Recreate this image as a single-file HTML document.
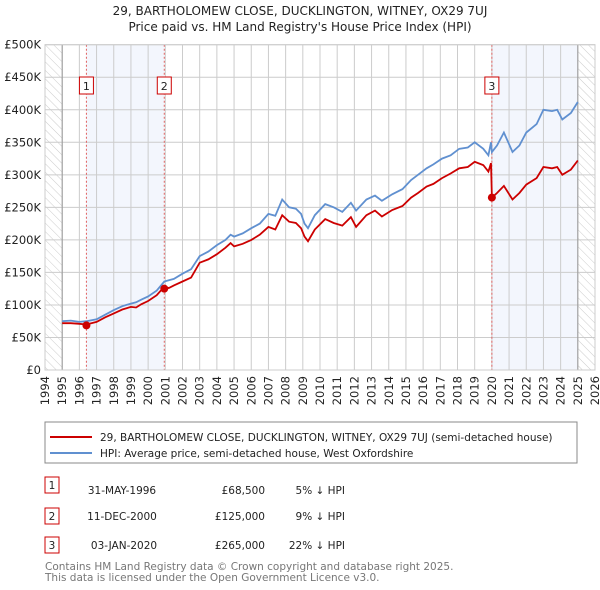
<!DOCTYPE html>
<html><head><meta charset="utf-8"><style>
body{margin:0;background:#fff;}
svg{display:block;font-family:"DejaVu Sans","Liberation Sans",sans-serif;}
</style></head><body>
<svg width="600" height="590" viewBox="0 0 600 590" xmlns="http://www.w3.org/2000/svg" id="chart">
<defs>
<pattern id="hatch" width="6" height="6" patternUnits="userSpaceOnUse" patternTransform="rotate(-45)">
<line x1="0" y1="0" x2="0" y2="6" stroke="#ccc" stroke-width="1"/>
</pattern>
</defs>
<text x="300" y="15" text-anchor="middle" font-size="12" fill="#222">29, BARTHOLOMEW CLOSE, DUCKLINGTON, WITNEY, OX29 7UJ</text>
<text x="300" y="31" text-anchor="middle" font-size="12" fill="#222">Price paid vs. HM Land Registry's House Price Index (HPI)</text>
<g id="plot"></g>
<g id="legend">
<rect x="45" y="422" width="532" height="41" fill="#fff" stroke="#888"/>
<line x1="50" y1="437" x2="92" y2="437" stroke="#cc0000" stroke-width="2"/>
<text x="100" y="441" font-size="10.5" fill="#222">29, BARTHOLOMEW CLOSE, DUCKLINGTON, WITNEY, OX29 7UJ (semi-detached house)</text>
<line x1="50" y1="453" x2="92" y2="453" stroke="#6090d0" stroke-width="2"/>
<text x="100" y="457" font-size="10.5" fill="#222">HPI: Average price, semi-detached house, West Oxfordshire</text>
</g>
<g id="table" font-size="10.5" fill="#222">
<rect x="45" y="477" width="14" height="16" fill="#fff" stroke="#cc0000"/>
<text x="52" y="489" text-anchor="middle">1</text>
<text x="122" y="494" text-anchor="middle">31-MAY-1996</text>
<text x="265" y="494" text-anchor="end">£68,500</text>
<text x="345" y="494" text-anchor="end">5% ↓ HPI</text>
<rect x="45" y="508" width="14" height="16" fill="#fff" stroke="#cc0000"/>
<text x="52" y="520" text-anchor="middle">2</text>
<text x="122" y="520" text-anchor="middle">11-DEC-2000</text>
<text x="265" y="520" text-anchor="end">£125,000</text>
<text x="345" y="520" text-anchor="end">9% ↓ HPI</text>
<rect x="45" y="537" width="14" height="16" fill="#fff" stroke="#cc0000"/>
<text x="52" y="549" text-anchor="middle">3</text>
<text x="124" y="549" text-anchor="middle">03-JAN-2020</text>
<text x="265" y="549" text-anchor="end">£265,000</text>
<text x="345" y="549" text-anchor="end">22% ↓ HPI</text>
</g>
<text x="45" y="570" font-size="10.5" fill="#777">Contains HM Land Registry data © Crown copyright and database right 2025.</text>
<text x="45" y="581" font-size="10.5" fill="#777">This data is licensed under the Open Government Licence v3.0.</text>
</svg>
<script>
const years=[1995,1995.5,1996,1996.41,1997,1997.5,1998,1998.5,1999,1999.3,1999.6,2000,2000.5,2000.94,2001.2,2001.5,2002,2002.5,2003,2003.5,2004,2004.5,2004.8,2005,2005.5,2006,2006.5,2007,2007.4,2007.8,2008.2,2008.6,2008.9,2009.1,2009.3,2009.7,2010.3,2010.8,2011.3,2011.8,2012.1,2012.7,2013.2,2013.6,2014.2,2014.8,2015.3,2015.7,2016.2,2016.6,2017.1,2017.6,2018.1,2018.6,2019,2019.5,2019.8,2019.95,2020,2020.3,2020.7,2021.2,2021.6,2022,2022.6,2023,2023.5,2023.8,2024.1,2024.6,2025];
const hpiValues=[75,76,74,75,78,85,92,98,102,104,108,113,122,136,138,140,148,155,175,182,192,200,208,205,210,218,225,240,237,262,250,248,240,225,218,238,255,250,243,257,245,262,268,260,270,278,292,300,310,316,325,330,340,342,350,340,330,350,335,345,365,335,345,365,378,400,398,400,385,395,412];
const propertyValues=[72,72,71,70,74,81,87,93,97,96,101,106,115,128,126,130,136,142,165,170,178,188,195,190,194,200,208,220,216,238,228,226,218,205,198,216,232,226,222,235,220,238,245,236,246,252,265,272,282,286,295,302,310,312,320,315,305,318,265,272,283,262,272,285,295,312,310,312,300,308,322];
const saleYears=[1996.41,2000.94,2020.0];
const salePrices=[68.5,125,265];
const saleLabels=["1","2","3"];
const yTicks=[0,50,100,150,200,250,300,350,400,450,500];
const yTickLabels=["£0","£50K","£100K","£150K","£200K","£250K","£300K","£350K","£400K","£450K","£500K"];
const xTicks=[1994,1995,1996,1997,1998,1999,2000,2001,2002,2003,2004,2005,2006,2007,2008,2009,2010,2011,2012,2013,2014,2015,2016,2017,2018,2019,2020,2021,2022,2023,2024,2025,2026];

const L=45,R=595,T=44.7,B=370;
const x=v=>L+(v-1994)/(2026-1994)*(R-L);
const y=v=>B-v/500*(B-T);
const NS="http://www.w3.org/2000/svg";
const g=document.getElementById('plot');
function mk(tag,attrs,parent){const e=document.createElementNS(NS,tag);for(const k in attrs)e.setAttribute(k,attrs[k]);(parent||g).appendChild(e);return e;}

let e=mk('rect',{x:x(1996.41),y:T,width:x(2000.94)-x(1996.41),height:B-T,fill:'#f3f6fd'});


e=mk('rect',{x:x(2020),y:T,width:x(2025)-x(2020),height:B-T,fill:'#f3f6fd'});


e=mk('rect',{x:L,y:T,width:x(1995)-L,height:B-T,fill:'url(#hatch)'});


e=mk('rect',{x:x(2025),y:T,width:R-x(2025),height:B-T,fill:'url(#hatch)'});



yTicks.forEach((t,i)=>{
  const l=mk('line',{x1:L,x2:R,y1:y(t),y2:y(t),stroke:'#ccc','stroke-width':1});
  
  
  const tx=mk('text',{x:L-4,y:y(t)+4,'text-anchor':'end','font-size':11.5,fill:'#222'});
  tx.textContent=yTickLabels[i];
  
  
});
xTicks.forEach(t=>{
  const l=mk('line',{x1:x(t),x2:x(t),y1:T,y2:B,stroke:'#ccc','stroke-width':1});
  
  
  const tx=mk('text',{x:0,y:0,'text-anchor':'end','font-size':11.5,fill:'#222',transform:`translate(${x(t)+4},${B+6}) rotate(-90)`});
  tx.textContent=t;
  
  
});
e=mk('line',{x1:x(1995),x2:x(1995),y1:T,y2:B,stroke:'#999','stroke-width':1});


e=mk('line',{x1:x(2025),x2:x(2025),y1:T,y2:B,stroke:'#999','stroke-width':1});



saleYears.forEach((s,i)=>{
  const l=mk('line',{x1:x(s),x2:x(s),y1:T,y2:B,stroke:'#e06060','stroke-width':1,'stroke-dasharray':'2,2'});
  
  
  const r=mk('rect',{x:x(s)-7,y:77,width:14,height:17,fill:'#fff',stroke:'#cc0000'});
  
  
  const t=mk('text',{x:x(s),y:90,'text-anchor':'middle','font-size':11,fill:'#222'});
  t.textContent=saleLabels[i];
  
  
});

const pts=v=>years.map((yr,i)=>x(yr).toFixed(1)+','+y(v[i]).toFixed(1)).join(' ');
e=mk('polyline',{points:pts(hpiValues),fill:'none',stroke:'#6090d0','stroke-width':1.8});


e=mk('polyline',{points:pts(propertyValues),fill:'none',stroke:'#cc0000','stroke-width':1.8});


saleYears.forEach((s,i)=>{
  const c=mk('circle',{cx:x(s),cy:y(salePrices[i]),r:4,fill:'#cc0000'});
  
  
});
e=mk('rect',{x:L,y:T,width:R-L,height:B-T,fill:'none',stroke:'#ccc'});


</script>
</body></html>
